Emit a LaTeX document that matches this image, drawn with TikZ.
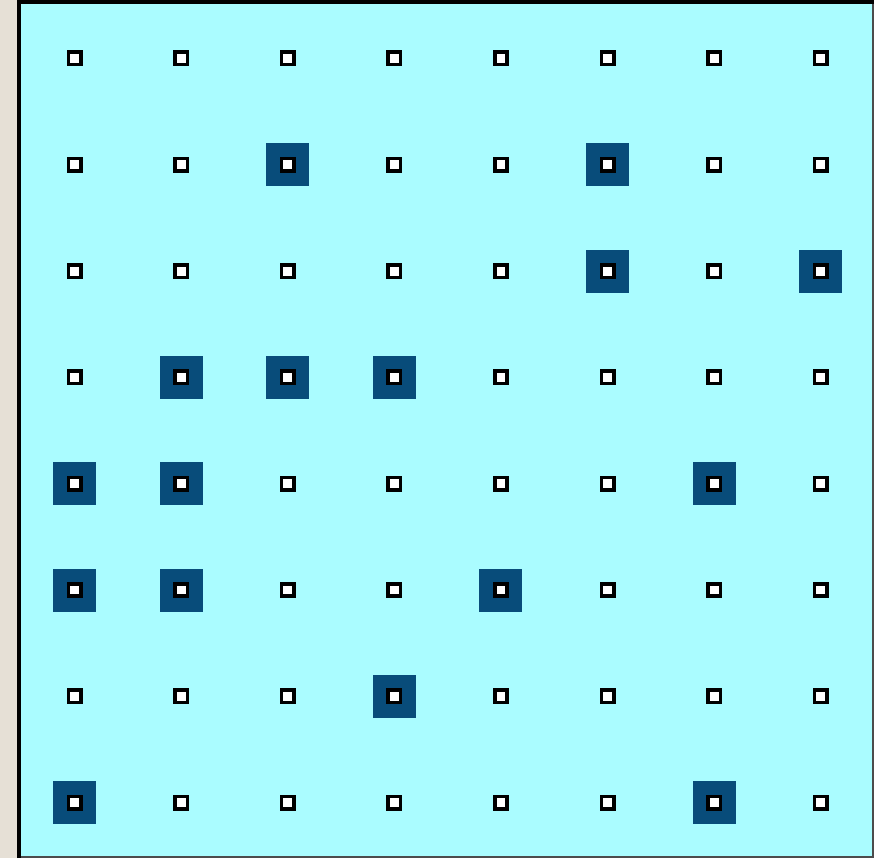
\documentclass[tikz,border=0pt]{standalone}
\usetikzlibrary{positioning}
\definecolor{paneback}{RGB}{230,224,214}
\definecolor{panefill}{RGB}{170,252,255}
\definecolor{markblue}{RGB}{8,76,122}

\begin{document}
\begin{tikzpicture}[
      x=1pt, y=-1pt,
      cell/.style={draw=black, line width=3.6pt, fill=white, minimum size=12.4pt,
                   inner sep=0pt, outer sep=0pt},
      hilite/.style={fill=markblue, minimum size=43pt, inner sep=0pt, outer sep=0pt},
    ]
    % ---------- panel ----------
    \useasboundingbox[fill=paneback] (0,0) rectangle (874,858);
    \fill[panefill] (19,2) rectangle (873,857);
    \draw[line width=4pt, black] (19,858) -- (19,2.2) -- (874,2.2);
    \draw[line width=1.4pt, black!70] (872.8,4) -- (872.8,856.8) -- (21,856.8);

    % ---------- highlighted cells ----------
    \foreach \r/\c in {2/3, 2/6, 3/6, 3/8, 4/2, 4/3, 4/4, 5/1, 5/2, 5/7,
                       6/1, 6/2, 6/5, 7/4, 8/1, 8/7}
      \node[hilite] (hl-\r-\c) at ({74.5+106.6*(\c-1)}, {58.5+106.3*(\r-1)}) {};

    % ---------- grid of cells ----------
    \foreach \r in {1,...,8}
      \foreach \c in {1,...,8}
        \node[cell] (c-\r-\c) at ({74.5+106.6*(\c-1)}, {58.5+106.3*(\r-1)}) {};
  \end{tikzpicture}
\end{document}
